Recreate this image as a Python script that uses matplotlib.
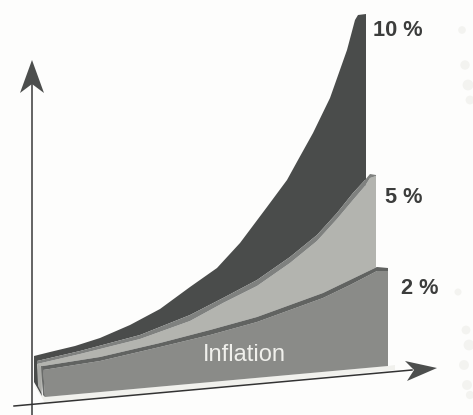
import matplotlib
matplotlib.use('Agg')
import matplotlib.pyplot as plt
from matplotlib.patches import Polygon

plt.rcParams['font.family'] = ['Liberation Sans', 'DejaVu Sans']

# values, in picture units (y grows downward)
x_10 = [34, 50, 75, 100, 130, 160, 190, 217, 240, 267, 287, 298, 313, 330, 347, 355, 358, 366]
y_10 = [356, 352, 346, 338, 325, 309, 287, 268, 243, 207, 180, 160, 133, 98, 50, 20, 15, 14]

# top and bottom of the grey edge on the 5 % layer
x_5 = [37, 80, 140, 190, 223, 257, 290, 317, 337, 353, 365, 370, 376]
y_5 = [361, 351, 335, 315, 298, 280, 257, 235, 213, 193, 180, 174, 175]
y_5_edge = [364, 354, 339, 321, 303, 286, 263, 241, 219, 200, 186, 178, 176]

x_2 = [43, 100, 160, 210, 257, 290, 323, 350, 377, 388]
y_2 = [366, 357, 343, 330, 317, 305, 293, 280, 267, 268]
y_2_edge = [370, 361, 347, 335, 322, 310, 298, 285, 271, 271]
x_floor = [388, 45]
y_floor = [366, 397]

labels = ['10 %', '5 %', '2 %']
label_x = [373, 385, 401]
label_y = [31, 197, 288]

blot_x = [462, 465, 468, 470, 466, 469, 464, 467, 470, 458]
blot_y = [30, 65, 85, 100, 330, 345, 365, 385, 395, 292]
blot_s = [30, 45, 60, 40, 40, 60, 50, 50, 35, 25]

fig = plt.figure(figsize=(4.73, 4.15), dpi=100, facecolor='#fdfdfc')
ax = fig.add_axes([0, 0, 1, 1])
ax.set_xlim(0, 473)
ax.set_ylim(415, 0)
ax.axis('off')

ax.scatter(blot_x, blot_y, s=blot_s, color='#f3f3f0', lw=0, zorder=1)


def area(xs, ys, col, z):
    ax.add_patch(Polygon(list(zip(xs, ys)), closed=True, fc=col, ec='none', zorder=z))


# pale strip under the block
area([34, 45, 395, 395, 388, 45], [385, 403, 370, 365, 366, 397], '#f1f1ed', 2)

# 10 % layer and its left side
area(x_10 + [366] + x_5[::-1][2:] + [38, 42, 34], y_10 + [190] + y_5[::-1][2:] + [370, 396, 382], '#4a4c4b', 4)

# 5 % layer, its grey edge and left side
area(x_5 + [376] + x_2[::-1][1:] + [42, 38], y_5_edge + [270] + y_2[::-1][1:] + [392, 385], '#b3b4af', 5)
area(x_5 + x_5[::-1], y_5 + y_5_edge[::-1], '#7f817f', 6)
area([38, 41, 41, 38], [364, 368, 392, 386], '#a9aaa6', 6)

# 2 % layer, its dark edge and left side
area(x_2 + x_floor, y_2_edge + y_floor, '#8a8b88', 7)
area(x_2 + x_2[::-1], y_2 + y_2_edge[::-1], '#616361', 8)
area([41, 43, 45, 43], [366, 366, 397, 395], '#6a6c6a', 8)

# axes
ax.plot([32, 32], [415, 84], color='#3a3a3a', lw=1.1, zorder=9)
ax.plot([14, 412], [406, 370], color='#333333', lw=1.1, zorder=9)
ax.add_patch(Polygon([(32, 60), (44, 93), (32, 84), (20, 93)], closed=True, fc='#4c4e4d', ec='none', zorder=10))
ax.add_patch(Polygon([(437, 368), (407, 381), (414, 370), (405, 361)], closed=True, fc='#4c4e4d', ec='none', zorder=10))

for s, tx, ty in zip(labels, label_x, label_y):
    ax.text(tx, ty, s, fontsize=15.7, fontweight='bold', color='#3c3d3c', ha='left', va='center', zorder=11)
ax.text(203, 355, 'Inflation', fontsize=17, color='#f0f0ec', ha='left', va='center', zorder=11)

fig.savefig('out.png', dpi=100, facecolor=fig.get_facecolor())
